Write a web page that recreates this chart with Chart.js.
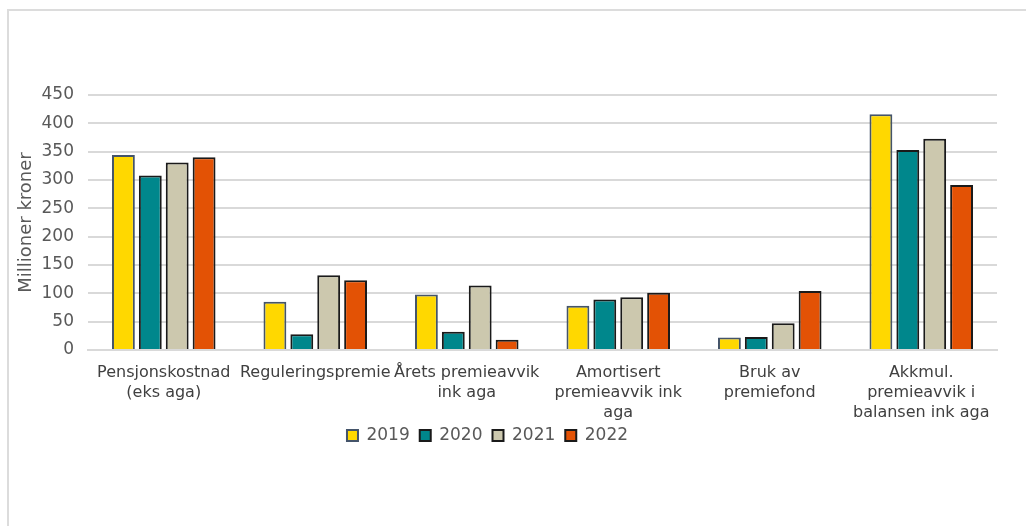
<!DOCTYPE html>
<html>
<head>
<meta charset="utf-8">
<script src="https://cdn.jsdelivr.net/npm/chart.js@4/dist/chart.umd.min.js"></script>
<style>
  body { margin: 0; background: #fff; }
  .frame { position: absolute; left: 7px; top: 9px; width: 1100px; height: 600px;
           border-left: 2px solid #dcdcdc; border-top: 2px solid #dcdcdc; }
  .wrap { position: absolute; left: 0; top: 0; width: 1026px; height: 526px; }
</style>
</head>
<body>
<div class="frame"></div>
<div class="wrap"><canvas id="pensjon"></canvas></div>
<script>
const categories = [
  ["Pensjonskostnad", "(eks aga)"],
  "Reguleringspremie",
  ["Årets premieavvik", "ink aga"],
  ["Amortisert", "premieavvik ink", "aga"],
  ["Bruk av", "premiefond"],
  ["Akkmul.", "premieavvik i", "balansen ink aga"]
];
const years = ["2019", "2020", "2021", "2022"];
const v2019 = [344, 85, 98, 78, 22, 416];
const v2020 = [308, 28, 32, 89, 23, 353];
const v2021 = [331, 132, 114, 93, 47, 373];
const v2022 = [340, 123, 18, 101, 104, 291];
const yTicks = [0, 50, 100, 150, 200, 250, 300, 350, 400, 450];

const fills = ["#FFD800", "#00878C", "#CCC8AE", "#E35205"];
const borders = ["#44546A", "#1a1a1a", "#1a1a1a", "#1a1a1a"];
const series = [v2019, v2020, v2021, v2022];

Chart.defaults.font.family = "'DejaVu Sans', Verdana, sans-serif";
Chart.defaults.color = "#595959";

// Excel puts the legend a bit left of centre and close to the labels
const shiftLegend = {
  id: "shiftLegend",
  afterLayout(chart) {
    const lg = chart.legend;
    if (!lg) return;
    lg.right -= 34;
    lg.top -= 11;
    lg.bottom -= 11;
  }
};

new Chart("pensjon", {
  type: "bar",
  data: {
    labels: categories,
    datasets: years.map((y, i) => ({
      label: y,
      data: series[i],
      backgroundColor: fills[i],
      borderColor: borders[i],
      borderWidth: 2,
      categoryPercentage: 0.71,
      barPercentage: 0.85
    }))
  },
  options: {
    responsive: true,
    maintainAspectRatio: false,
    animation: false,
    layout: { padding: { top: 95, left: 12, right: 29, bottom: 61 } },
    plugins: {
      tooltip: { enabled: false },
      legend: {
        position: "bottom",
        labels: {
          boxWidth: 11,
          boxHeight: 11,
          padding: 10,
          color: "#595959",
          font: { size: 17 }
        }
      }
    },
    scales: {
      x: {
        grid: { display: false },
        border: { color: "#d9d9d9", width: 2 },
        afterFit(scale) { scale.paddingLeft = 0; scale.paddingRight = 0; },
        ticks: {
          color: "#404040",
          font: { size: 16, lineHeight: "20px" },
          maxRotation: 0,
          autoSkip: false,
          padding: 5
        }
      },
      y: {
        min: 0,
        max: 450,
        afterBuildTicks(axis) { axis.ticks = yTicks.map(v => ({ value: v })); },
        afterFit(scale) { scale.width = 76; },
        grid: { color: "#d9d9d9", lineWidth: 2, drawTicks: false },
        border: { display: false },
        ticks: { color: "#595959", font: { size: 17 }, padding: 14 },
        title: {
          display: true,
          text: "Millioner kroner",
          color: "#595959",
          font: { size: 18 },
          padding: 4
        }
      }
    }
  },
  plugins: [shiftLegend]
});
</script>
</body>
</html>
